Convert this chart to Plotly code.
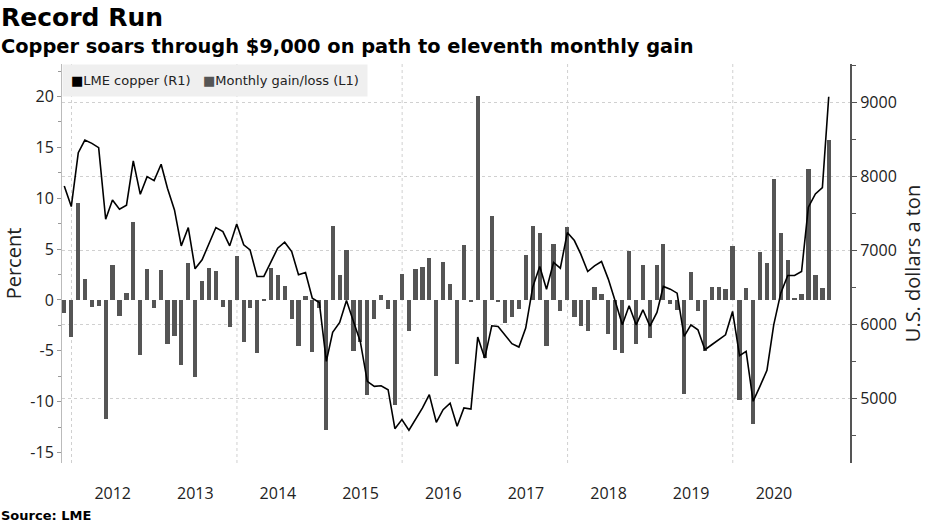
import pandas as pd
import plotly.graph_objects as go

# month-end dates, Nov 2011 .. Feb 2021
months = pd.date_range("2011-11-30", "2021-02-28", freq="ME")

# monthly gain/loss in percent
gain_2011 = [-1.3, -3.6]
gain_2012 = [9.5, 2.1, -0.7, -0.6, -11.7, 3.4, -1.6, 0.7, 7.7, -5.4, 3.0, -0.8]
gain_2013 = [2.9, -4.3, -3.5, -6.4, 3.6, -7.6, 1.9, 3.1, 2.8, -0.7, -2.7, 4.3]
gain_2014 = [-4.1, -0.8, -5.2, -0.1, 3.1, 2.5, 1.4, -1.9, -4.5, 0.4, -5.1, -0.75]
gain_2015 = [-12.8, 7.3, 2.5, 4.9, -5.0, -4.1, -9.3, -1.9, 0.5, -0.9, -10.3, 2.6]
gain_2016 = [-3.1, 3.0, 3.2, 4.1, -7.5, 3.7, 1.6, -6.3, 5.4, -0.2, 20.1, -5.7]
gain_2017 = [8.3, -0.2, -2.3, -1.7, -0.9, 4.4, 7.3, 6.6, -4.5, 5.5, -1.1, 7.2]
gain_2018 = [-1.7, -2.6, -3.1, 1.3, 0.6, -3.3, -4.9, -5.2, 4.8, -4.3, 3.4, -3.7]
gain_2019 = [3.4, 5.5, -0.4, -1.0, -9.2, 2.75, -1.1, -5.0, 1.25, 1.25, 1.1, 5.3]
gain_2020 = [-9.8, 1.15, -12.2, 4.75, 3.6, 11.9, 6.6, 3.9, 0.1, 0.6, 12.85, 2.5]
gain_2021 = [1.15, 15.7]

# LME copper, US$ a ton at month end
price_2011 = [7874, 7595]
price_2012 = [8324, 8495, 8450, 8392, 7423, 7685, 7559, 7613, 8212, 7761, 8000, 7946]
price_2013 = [8167, 7842, 7550, 7063, 7311, 6752, 6874, 7090, 7311, 7257, 7063, 7360]
price_2014 = [7077, 7009, 6649, 6649, 6851, 7032, 7113, 6986, 6671, 6703, 6356, 6297]
price_2015 = [5500, 5892, 6027, 6324, 6041, 5770, 5230, 5162, 5171, 5117, 4590, 4712]
price_2016 = [4568, 4712, 4870, 5050, 4676, 4847, 4935, 4622, 4870, 4856, 5829, 5545]
price_2017 = [5982, 5973, 5860, 5739, 5694, 5950, 6505, 6784, 6477, 6838, 6761, 7243]
price_2018 = [7135, 6955, 6716, 6793, 6851, 6613, 6311, 5995, 6252, 5995, 6198, 5978]
price_2019 = [6162, 6514, 6477, 6423, 5838, 5995, 5928, 5658, 5725, 5793, 5860, 6176]
price_2020 = [5577, 5635, 4960, 5162, 5378, 5995, 6423, 6662, 6662, 6716, 7586, 7766]
price_2021 = [7851, 9081]

gains = (gain_2011 + gain_2012 + gain_2013 + gain_2014 + gain_2015 + gain_2016
         + gain_2017 + gain_2018 + gain_2019 + gain_2020 + gain_2021)
prices = (price_2011 + price_2012 + price_2013 + price_2014 + price_2015 + price_2016
          + price_2017 + price_2018 + price_2019 + price_2020 + price_2021)

years = list(range(2012, 2021))
year_mid = [f"{y}-07-01" for y in years]
grid_years = [f"{y}-01-01" for y in range(2012, 2021, 2)]

pct_ticks = [20, 15, 10, 5, 0, -5, -10, -15]
usd_ticks = [9000, 8000, 7000, 6000, 5000]

tick_font = dict(family="Open Sans", size=16, color="#222")
bar_color = "#555555"
grid_color = "#d0d0d0"

fig = go.Figure()

fig.add_trace(go.Bar(
    x=months, y=gains, yaxis="y",
    marker_color=bar_color, marker_line_width=0,
    width=19 * 24 * 3600 * 1000,
    name="Monthly gain/loss (L1)",
))
fig.add_trace(go.Scatter(
    x=months, y=prices, yaxis="y2", mode="lines",
    line=dict(color="black", width=1.6),
    name="LME copper (R1)",
))

fig.update_layout(
    width=930, height=523,
    margin=dict(l=62, r=80, t=64, b=60),
    paper_bgcolor="white", plot_bgcolor="white",
    showlegend=False,
    font=dict(family="Open Sans", color="#222"),
    xaxis=dict(
        type="date", automargin=False,
        range=["2011-11-20", "2021-06-02"],
        tickmode="array", tickvals=year_mid, ticktext=[str(y) for y in years],
        ticks="", showgrid=False, showline=False, zeroline=False,
        tickfont=tick_font, ticklabelstandoff=19,
    ),
    yaxis=dict(
        automargin=False,
        range=[-16.03, 23.2],
        tickmode="array", tickvals=pct_ticks,
        ticktext=[str(v) for v in pct_ticks],
        ticks="outside", ticklen=4, tickcolor="#999",
        showline=True, linecolor="#bbb", linewidth=1,
        showgrid=False, zeroline=False,
        tickfont=tick_font,
        minor=dict(dtick=2.5, ticks="outside", ticklen=3, tickcolor="#999", showgrid=False),
        title=dict(text="Percent", font=dict(family="Open Sans", size=20, color="#222"), standoff=6),
    ),
    yaxis2=dict(
        automargin=False,
        range=[4125, 9524], overlaying="y", side="right",
        tickmode="array", tickvals=usd_ticks,
        ticks="outside", ticklen=5, tickcolor="#555",
        showline=True, linecolor="#555", linewidth=2,
        showgrid=True, gridcolor=grid_color, griddash="dot", gridwidth=1,
        zeroline=False,
        tickfont=tick_font,
        minor=dict(dtick=500, ticks="outside", ticklen=4, tickcolor="#555", showgrid=False),
        title=dict(text="U.S. dollars a ton", font=dict(family="Open Sans", size=20, color="#222"), standoff=10),
    ),
    bargap=0,
)

# dotted vertical gridlines every other January
for g in grid_years:
    fig.add_vline(x=g, line_dash="dot", line_color=grid_color, line_width=1, layer="below")

# headline, subtitle, source
fig.add_annotation(text="<b>Record Run</b>", xref="paper", yref="paper",
                   x=-63 / 788, y=1 + 46 / 399, xanchor="left", yanchor="middle",
                   showarrow=False, font=dict(family="DejaVu Sans", size=25, color="black"))
fig.add_annotation(text="<b>Copper soars through $9,000 on path to eleventh monthly gain</b>",
                   xref="paper", yref="paper",
                   x=-63 / 788, y=1 + 18 / 399, xanchor="left", yanchor="middle",
                   showarrow=False, font=dict(family="DejaVu Sans", size=19.4, color="black"))
fig.add_annotation(text="<b>Source: LME</b>", xref="paper", yref="paper",
                   x=-63 / 788, y=-52 / 399, xanchor="left", yanchor="middle",
                   showarrow=False, font=dict(family="DejaVu Sans", size=13, color="black"))

# legend box
legend_text = ("<span style='color:black'>■</span>LME copper (R1)   "
               f"<span style='color:{bar_color}'>■</span>Monthly gain/loss (L1)")
fig.add_annotation(text=legend_text, xref="paper", yref="paper",
                   x=0, y=1, xanchor="left", yanchor="top", align="left",
                   showarrow=False, bgcolor="#efefef", borderpad=8,
                   font=dict(family="DejaVu Sans", size=13, color="#222"))

# drop the browser's default page margin so the figure sits at the window corner
fig.write_html("out.html", config={"displayModeBar": False},
               post_script="document.body.style.margin='0';")
